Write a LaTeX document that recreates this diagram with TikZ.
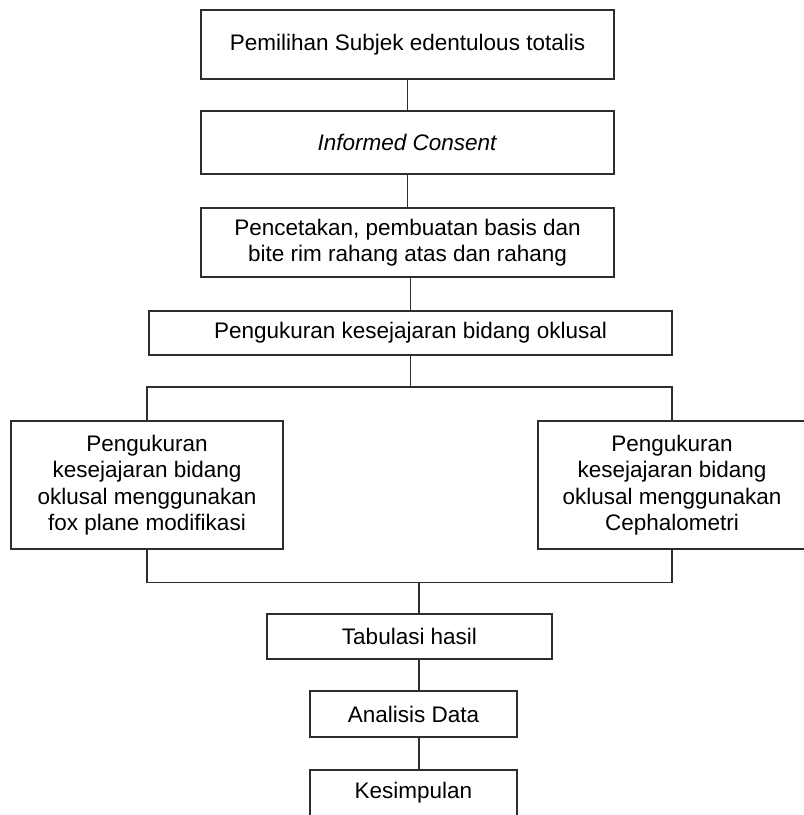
\documentclass[tikz,border=0pt]{standalone}
\usepackage{fontspec}
\setmainfont{Liberation Sans}
\usepackage{xcolor}
\usepackage{tikz}
\usetikzlibrary{positioning}
\definecolor{boxline}{RGB}{45, 45, 45}

\begin{document}
\begin{tikzpicture}[
    box/.style={rectangle, draw=boxline, line width=1.3pt, minimum width=413pt, minimum height=69pt, align=center, inner sep=0pt, outer sep=0pt, font=\fontsize{22.5}{26.5}\selectfont},
    link/.style={draw=boxline, line width=1.2pt}
]
    \useasboundingbox (0,0) rectangle (804pt,-815pt);
    \node[box] (subjek) at (407.5pt,-44.5pt) {Pemilihan Subjek edentulous totalis};
    \node[box, minimum height=63pt, below=32pt of subjek] (consent) {\textit{Informed Consent}};
    \node[box, below=34pt of consent] (cetak) {Pencetakan, pembuatan basis dan\\bite rim rahang atas dan rahang};
    \node[box, minimum width=523pt, minimum height=44pt, below=34pt of cetak, xshift=3pt] (ukur) {Pengukuran kesejajaran bidang oklusal};
    \node[box, minimum width=272pt, minimum height=128pt, below=66pt of ukur, xshift=-263.5pt] (foxplane) {Pengukuran\\kesejajaran bidang\\oklusal menggunakan\\fox plane modifikasi};
    \node[box, minimum width=268pt, minimum height=128pt, below=66pt of ukur, xshift=261.5pt] (cephalo) {Pengukuran\\kesejajaran bidang\\oklusal menggunakan\\Cephalometri};
    \node[box, minimum width=285pt, minimum height=45pt, below=65pt of foxplane, xshift=262.5pt] (tabulasi) {Tabulasi hasil};
    \node[box, minimum width=207pt, minimum height=46pt, below=32pt of tabulasi, xshift=4pt] (analisis) {Analisis Data};
    \node[box, minimum width=207pt, minimum height=46pt, below=33pt of analisis] (kesimpulan) {Kesimpulan};

    \draw[link] (subjek) -- (consent);
    \draw[link] (consent) -- (cetak);
    \draw[link] (ukur.north |- cetak.south) -- (ukur.north);
    \path (ukur.south) ++(0,-32pt) coordinate (pisah);
    \draw[link] (ukur) -- (pisah);
    \draw[link] (foxplane.north) |- (pisah) -| (cephalo.north);
    \path (tabulasi.north) ++(9.5pt,31.5pt) coordinate (gabung);
    \draw[link] (foxplane.south) |- (gabung) -| (cephalo.south);
    \draw[link] (gabung) -- (gabung |- tabulasi.north);
    \draw[link] (tabulasi.south -| gabung) -- (analisis.north -| gabung);
    \draw[link] (analisis.south -| gabung) -- (kesimpulan.north -| gabung);
\end{tikzpicture}
\end{document}
